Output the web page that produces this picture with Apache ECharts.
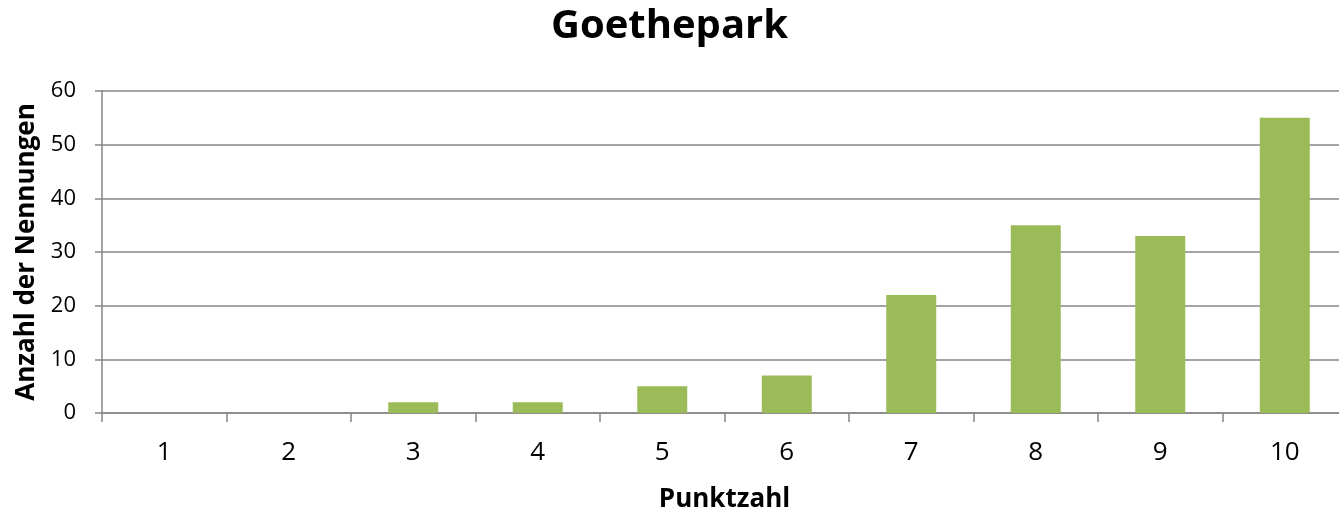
<!DOCTYPE html>
<html>
<head>
<meta charset="utf-8">
<script src="https://cdn.jsdelivr.net/npm/echarts@6/dist/echarts.min.js"></script>
<style>
  html, body { margin: 0; padding: 0; background: #fff; }
  #chart { width: 1339px; height: 511px; }
</style>
</head>
<body>
<div id="chart"></div>
<script>
var categories = ['1', '2', '3', '4', '5', '6', '7', '8', '9', '10'];
var counts = [0, 0, 2, 2, 5, 7, 22, 35, 33, 55];
var yTicks = [0, 10, 20, 30, 40, 50, 60];

var font = '"Open Sans", "DejaVu Sans", sans-serif';
var gray = '#868686';

var chart = echarts.init(document.getElementById('chart'));

var option = {
  animation: false,
  title: {
    text: 'Goethepark',
    left: 'center',
    top: 2,
    textStyle: { fontFamily: font, fontSize: 40, fontWeight: 'bold', color: '#000' }
  },
  grid: {
    left: 102,
    width: 1245,
    top: 91,
    bottom: 98,
    containLabel: false,
    outerBoundsMode: 'none'
  },
  xAxis: {
    type: 'category',
    data: categories,
    name: 'Punktzahl',
    nameLocation: 'middle',
    nameGap: 74,
    nameTextStyle: { fontFamily: font, fontSize: 26, fontWeight: 'bold', color: '#000' },
    axisLine: { lineStyle: { color: gray, width: 1.5 } },
    axisTick: { show: true, length: 9, lineStyle: { color: gray, width: 1.5 } },
    axisLabel: { fontFamily: font, fontSize: 26, color: '#000', margin: 27 }
  },
  yAxis: {
    type: 'value',
    min: yTicks[0],
    max: yTicks[yTicks.length - 1],
    interval: 10,
    name: 'Anzahl der Nennungen',
    nameLocation: 'middle',
    nameGap: 58,
    nameTextStyle: { fontFamily: font, fontSize: 26, fontWeight: 'bold', color: '#000' },
    axisLine: { show: true, lineStyle: { color: gray, width: 1.5 } },
    axisTick: { show: true, length: 7, lineStyle: { color: gray, width: 1.5 } },
    axisLabel: { fontFamily: font, fontSize: 22, color: '#000', margin: 26 },
    splitLine: { lineStyle: { color: gray, width: 1.5 } }
  },
  series: [{
    type: 'bar',
    data: counts,
    barWidth: 50,
    itemStyle: { color: '#9BBB59' }
  }]
};

chart.setOption(option);
</script>
</body>
</html>
